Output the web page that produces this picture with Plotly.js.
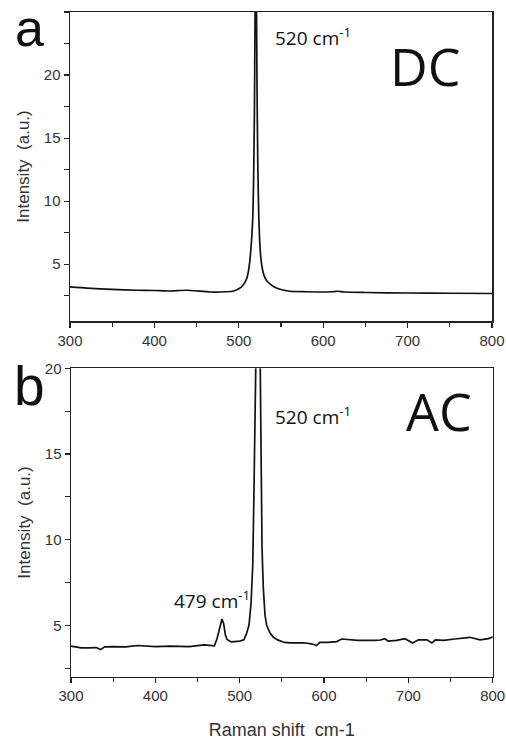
<!DOCTYPE html>
<html>
<head>
<meta charset="utf-8">
<script src="https://cdn.plot.ly/plotly-3.0.1.min.js"></script>
<style>html,body{margin:0;padding:0;background:#fff;}#chart{width:506px;height:740px;}</style>
</head>
<body>
<div id="chart"></div>
<script>
// Panel a (DC) spectrum
const dcShift = [300, 320, 350, 379, 400, 418, 438, 466, 485, 494, 500, 505, 509, 511, 513, 515, 516.5, 517.5, 518.5, 519.3, 520, 520.8, 521.6, 522.5, 523.5, 524.5, 526, 528, 530, 533, 537, 542, 550, 560, 580, 600, 610, 617, 625, 650, 700, 750, 800];
const dcIntensity = [3.2, 3.1, 3.0, 2.94, 2.92, 2.88, 2.94, 2.8, 2.82, 2.88, 3.05, 3.34, 3.8, 4.3, 5.2, 6.8, 8.6, 11.5, 17, 25, 32, 27, 19, 13, 9.3, 7.2, 5.6, 4.6, 4.1, 3.7, 3.45, 3.2, 3.0, 2.86, 2.82, 2.8, 2.82, 2.86, 2.8, 2.76, 2.72, 2.7, 2.68];

// Panel b (AC) spectrum
const acShift = [300, 305, 312, 320, 330, 335, 340, 350, 365, 379, 400, 418, 440, 458, 470, 473, 476, 479, 481, 483, 485, 490, 500, 505, 508, 511, 513.5, 515.5, 517, 518.3, 520, 522, 524, 525.4, 526.5, 528, 530, 532, 534, 536, 540, 545, 553, 560, 576, 585, 591, 595, 605, 615, 621, 630, 640, 660, 667, 672, 676, 686, 696, 705, 712, 722, 728, 732, 742, 755, 773, 785, 795, 802];
const acIntensity = [3.78, 3.74, 3.68, 3.68, 3.7, 3.58, 3.74, 3.76, 3.74, 3.82, 3.76, 3.78, 3.76, 3.86, 3.8, 4.2, 4.75, 5.37, 5.1, 4.45, 4.17, 4.03, 4.08, 4.15, 4.5, 5.0, 6.3, 8.5, 13, 22, 30, 30, 22, 13, 9.5, 7.2, 5.6, 5.0, 4.75, 4.55, 4.3, 4.15, 4.0, 3.98, 3.98, 3.92, 3.82, 4.0, 4.0, 4.05, 4.2, 4.15, 4.12, 4.12, 4.14, 4.22, 4.08, 4.12, 4.22, 3.97, 4.15, 4.15, 3.97, 4.15, 4.12, 4.2, 4.3, 4.15, 4.22, 4.36];

const xTicks = [300, 400, 500, 600, 700, 800];
const yTicksA = [5, 10, 15, 20];
const yTicksB = [5, 10, 15, 20];

const tickFont = {family: 'Liberation Sans, Arial, sans-serif', size: 15, color: '#333'};
const lineCol = '#222';

function xAxis(domain, anchor) {
  return {
    domain: domain, anchor: anchor, range: [300, 800],
    tickvals: xTicks, ticktext: xTicks.map(String),
    ticks: 'outside', ticklen: 5, tickwidth: 1.2, tickcolor: lineCol,
    minor: {dtick: 50, ticks: 'outside', ticklen: 4, tickwidth: 1.2, tickcolor: lineCol, showgrid: false},
    showline: true, linecolor: lineCol, linewidth: 1.5, mirror: true,
    showgrid: false, zeroline: false, tickfont: tickFont
  };
}
function yAxis(domain, anchor, range, ticks) {
  return {
    domain: domain, anchor: anchor, range: range,
    tickvals: ticks, ticktext: ticks.map(String),
    ticks: 'outside', ticklen: 5, tickwidth: 1.2, tickcolor: lineCol,
    minor: {dtick: 2.5, tick0: 0, ticks: 'outside', ticklen: 5, tickwidth: 1.2, tickcolor: lineCol, showgrid: false},
    showline: true, linecolor: lineCol, linewidth: 1.5, mirror: true,
    showgrid: false, zeroline: false, tickfont: tickFont,
    title: {text: 'Intensity  (a.u.)', font: {family: 'Liberation Sans, Arial, sans-serif', size: 17, color: '#333'}, standoff: 10}
  };
}

const data = [
  {x: dcShift, y: dcIntensity, xaxis: 'x', yaxis: 'y', type: 'scatter', mode: 'lines',
   line: {color: '#111', width: 1.7, shape: 'spline', smoothing: 0.6}, hoverinfo: 'skip'},
  {x: acShift, y: acIntensity, xaxis: 'x2', yaxis: 'y2', type: 'scatter', mode: 'lines',
   line: {color: '#111', width: 1.7}, hoverinfo: 'skip'}
];

const annFont = {family: 'Open Sans, Noto Sans, sans-serif', color: '#111'};
const layout = {
  width: 506, height: 740,
  margin: {l: 0, r: 0, t: 0, b: 0},
  paper_bgcolor: '#fff', plot_bgcolor: '#fff',
  showlegend: false,
  xaxis: xAxis([70/506, 492/506], 'y'),
  yaxis: yAxis([1 - 321/740, 1 - 12/740], 'x', [0.5, 25], yTicksA),
  xaxis2: Object.assign(xAxis([71/506, 492.7/506], 'y2'), {
    title: {text: 'Raman shift  cm-1', font: {family: 'Liberation Sans, Arial, sans-serif', size: 18, color: '#333'}, standoff: 20}
  }),
  yaxis2: yAxis([1 - 676.7/740, 1 - 368.3/740], 'x2', [2, 20], yTicksB),
  annotations: [
    {text: 'a', xref: 'paper', yref: 'paper', x: 29/506, y: 1 - 28/740, xanchor: 'center', yanchor: 'middle', showarrow: false,
     font: {family: 'Liberation Sans, Arial, sans-serif', size: 52, color: '#111'}},
    {text: 'b', xref: 'paper', yref: 'paper', x: 29/506, y: 1 - 386/740, xanchor: 'center', yanchor: 'middle', showarrow: false,
     font: {family: 'Liberation Sans, Arial, sans-serif', size: 55, color: '#111'}},
    {text: 'DC', xref: 'paper', yref: 'paper', x: 425/506, y: 1 - 65/740, xanchor: 'center', yanchor: 'middle', showarrow: false,
     font: Object.assign({size: 52}, annFont)},
    {text: 'AC', xref: 'paper', yref: 'paper', x: 439/506, y: 1 - 410/740, xanchor: 'center', yanchor: 'middle', showarrow: false,
     font: Object.assign({size: 52}, annFont)},
    {text: '520 cm<sup>-1</sup>', xref: 'paper', yref: 'paper', x: 273/506, y: 1 - 37/740, xanchor: 'left', yanchor: 'middle', showarrow: false,
     font: Object.assign({size: 19}, annFont)},
    {text: '520 cm<sup>-1</sup>', xref: 'paper', yref: 'paper', x: 273/506, y: 1 - 416/740, xanchor: 'left', yanchor: 'middle', showarrow: false,
     font: Object.assign({size: 19}, annFont)},
    {text: '479 cm<sup>-1</sup>', xref: 'paper', yref: 'paper', x: 172/506, y: 1 - 600/740, xanchor: 'left', yanchor: 'middle', showarrow: false,
     font: Object.assign({size: 19}, annFont)}
  ]
};

Plotly.newPlot('chart', data, layout, {staticPlot: true, displayModeBar: false});
</script>
</body>
</html>
